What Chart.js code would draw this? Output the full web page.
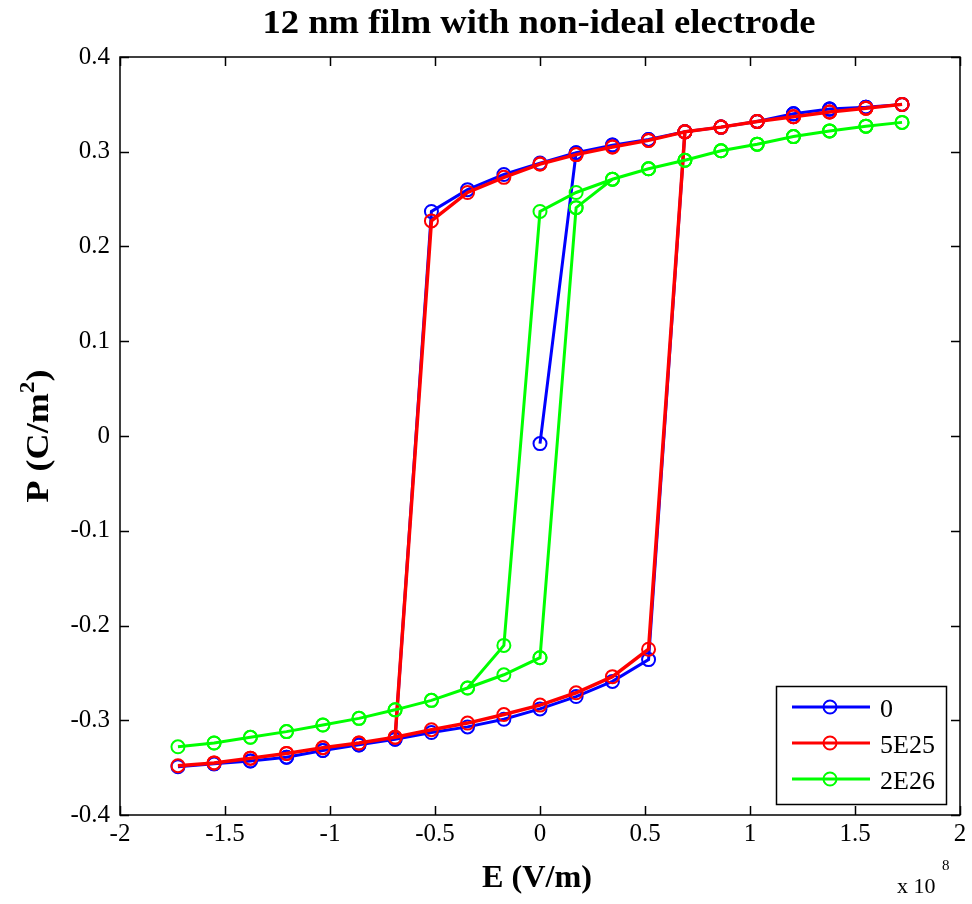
<!DOCTYPE html>
<html><head><meta charset="utf-8">
<script src="https://cdn.jsdelivr.net/npm/chart.js@4"></script>
<style>html,body{margin:0;padding:0;background:#fff}</style>
</head><body>
<canvas id="c" width="972" height="904" style="display:block"></canvas>
<script>
// ---- data (E in units of 1e8 V/m, P in C/m^2) ----
const seriesNames = ['0', '5E25', '2E26'];
const seriesColors = ['#0000ff', '#ff0000', '#00ff00'];

const blueE = [0, 0.172, 0.345, 0.517, 0.690, 0.862, 1.034, 1.207, 1.379, 1.552, 1.724,
  1.552, 1.379, 1.207, 1.034, 0.862, 0.690, 0.517, 0.345, 0.172, 0, -0.172, -0.345, -0.517, -0.690, -0.862, -1.034, -1.207, -1.379, -1.552, -1.724,
  -1.552, -1.379, -1.207, -1.034, -0.862, -0.690, -0.517, -0.345, -0.172, 0, 0.172, 0.345, 0.517, 0.690, 0.862, 1.034, 1.207, 1.379, 1.552, 1.724];
const blueP = [-0.008, 0.299, 0.307, 0.313, 0.321, 0.326, 0.332, 0.340, 0.345, 0.347, 0.350,
  0.347, 0.345, 0.340, 0.332, 0.326, 0.321, 0.313, 0.307, 0.299, 0.288, 0.276, 0.260, 0.237, -0.320, -0.326, -0.332, -0.339, -0.343, -0.346, -0.349,
  -0.346, -0.343, -0.339, -0.332, -0.326, -0.320, -0.313, -0.307, -0.299, -0.288, -0.275, -0.259, -0.236, 0.321, 0.326, 0.332, 0.340, 0.345, 0.347, 0.350];

const redE = [0, 0.172, 0.345, 0.517, 0.690, 0.862, 1.034, 1.207, 1.379, 1.552, 1.724,
  1.552, 1.379, 1.207, 1.034, 0.862, 0.690, 0.517, 0.345, 0.172, 0, -0.172, -0.345, -0.517, -0.690, -0.862, -1.034, -1.207, -1.379, -1.552, -1.724,
  -1.552, -1.379, -1.207, -1.034, -0.862, -0.690, -0.517, -0.345, -0.172, 0, 0.172, 0.345, 0.517, 0.690, 0.862, 1.034, 1.207, 1.379, 1.552, 1.724];
const redP = [0.287, 0.297, 0.305, 0.312, 0.321, 0.326, 0.332, 0.337, 0.342, 0.346, 0.350,
  0.346, 0.342, 0.337, 0.332, 0.326, 0.321, 0.312, 0.305, 0.297, 0.287, 0.273, 0.257, 0.227, -0.318, -0.324, -0.329, -0.335, -0.340, -0.345, -0.348,
  -0.345, -0.340, -0.335, -0.329, -0.324, -0.318, -0.310, -0.303, -0.294, -0.284, -0.271, -0.254, -0.225, 0.321, 0.326, 0.332, 0.337, 0.342, 0.346, 0.350];

const greenE = [0, 0.172, 0.345, 0.517, 0.690, 0.862, 1.034, 1.207, 1.379, 1.552, 1.724,
  1.552, 1.379, 1.207, 1.034, 0.862, 0.690, 0.517, 0.345, 0.172, 0, -0.172, -0.345, -0.517, -0.690, -0.862, -1.034, -1.207, -1.379, -1.552, -1.724,
  -1.552, -1.379, -1.207, -1.034, -0.862, -0.690, -0.517, -0.345, -0.172, 0, 0.172, 0.345, 0.517, 0.690, 0.862, 1.034, 1.207, 1.379, 1.552, 1.724];
const greenP = [-0.234, 0.241, 0.271, 0.282, 0.291, 0.301, 0.308, 0.316, 0.322, 0.327, 0.331,
  0.327, 0.322, 0.316, 0.308, 0.301, 0.291, 0.282, 0.271, 0.257, 0.237, -0.221, -0.266, -0.279, -0.289, -0.298, -0.305, -0.312, -0.318, -0.324, -0.328,
  -0.324, -0.318, -0.312, -0.305, -0.298, -0.289, -0.279, -0.266, -0.252, -0.234, 0.241, 0.271, 0.282, 0.291, 0.301, 0.308, 0.316, 0.322, 0.327, 0.331];

const xTickValues = [-2, -1.5, -1, -0.5, 0, 0.5, 1, 1.5, 2];
const xTickLabels = ['-2', '-1.5', '-1', '-0.5', '0', '0.5', '1', '1.5', '2'];
const yTickValues = [-0.4, -0.3, -0.2, -0.1, 0, 0.1, 0.2, 0.3, 0.4];
const yTickLabels = ['-0.4', '-0.3', '-0.2', '-0.1', '0', '0.1', '0.2', '0.3', '0.4'];

const titleText = '12 nm film with non-ideal electrode';
const xTitle = 'E (V/m)';
const yTitle = 'P (C/m';

// ---- build datasets ----
function pts(E, P) { return E.map((e, i) => ({ x: e, y: P[i] })); }
const seriesData = [pts(blueE, blueP), pts(redE, redP), pts(greenE, greenP)];
const lineWidths = [3, 3.5, 3];
const orders = [2, 1, 0];

const datasets = seriesData.map((d, i) => ({
  label: seriesNames[i],
  data: d,
  borderColor: seriesColors[i],
  backgroundColor: 'rgba(0,0,0,0)',
  borderWidth: lineWidths[i],
  pointRadius: 6.5,
  pointBorderWidth: 2,
  pointBorderColor: seriesColors[i],
  pointBackgroundColor: 'rgba(0,0,0,0)',
  pointStyle: 'circle',
  tension: 0,
  showLine: true,
  fill: false,
  order: orders[i]
}));

const SERIF = '"Liberation Serif", "DejaVu Serif", serif';

function fitText(ctx, text, x, y, width, font, align) {
  ctx.save();
  ctx.font = font;
  const w = ctx.measureText(text).width;
  const s = width / w;
  ctx.translate(x, y);
  ctx.scale(s, 1);
  ctx.textAlign = align || 'center';
  ctx.fillText(text, 0, 0);
  ctx.restore();
}

const decor = {
  id: 'decor',
  afterDraw(chart) {
    const ctx = chart.ctx;
    const a = chart.chartArea;
    const xs = chart.scales.x, ys = chart.scales.y;
    ctx.save();
    ctx.strokeStyle = '#000';
    ctx.fillStyle = '#000';
    ctx.lineWidth = 1.5;
    // box
    ctx.strokeRect(a.left, a.top, a.right - a.left, a.bottom - a.top);
    // inward ticks
    const tl = 9;
    ctx.beginPath();
    xTickValues.forEach(v => {
      const p = Math.round(xs.getPixelForValue(v)) + 0.5;
      ctx.moveTo(p, a.bottom); ctx.lineTo(p, a.bottom - tl);
      ctx.moveTo(p, a.top); ctx.lineTo(p, a.top + tl);
    });
    yTickValues.forEach(v => {
      const p = Math.round(ys.getPixelForValue(v)) + 0.5;
      ctx.moveTo(a.left, p); ctx.lineTo(a.left + tl, p);
      ctx.moveTo(a.right, p); ctx.lineTo(a.right - tl, p);
    });
    ctx.stroke();

    // legend
    const lx = 776, ly = 686, lw = 170, lh = 118;
    ctx.fillStyle = '#fff';
    ctx.fillRect(lx, ly, lw, lh);
    ctx.strokeRect(lx + 0.5, ly + 0.5, lw, lh);
    const rows = [707, 743, 779];
    seriesNames.forEach((n, i) => {
      const y = rows[i];
      ctx.strokeStyle = seriesColors[i];
      ctx.lineWidth = 3;
      ctx.beginPath(); ctx.moveTo(792, y); ctx.lineTo(870, y); ctx.stroke();
      ctx.lineWidth = 2;
      ctx.beginPath(); ctx.arc(830, y, 6.5, 0, Math.PI * 2); ctx.stroke();
      ctx.fillStyle = '#000';
      ctx.font = '26px ' + SERIF;
      ctx.textAlign = 'left';
      ctx.textBaseline = 'middle';
      ctx.fillText(n, 880, y + 3);
    });

    // title and axis titles
    ctx.fillStyle = '#000';
    ctx.textBaseline = 'alphabetic';
    fitText(ctx, titleText, 539, 33, 553, 'bold 33px ' + SERIF, 'center');
    fitText(ctx, xTitle, 537, 887, 110, 'bold 31px ' + SERIF, 'center');

    // y title rotated
    ctx.save();
    ctx.translate(48, 436);
    ctx.rotate(-Math.PI / 2);
    ctx.font = 'bold 31px ' + SERIF;
    const w1 = ctx.measureText(yTitle).width;
    ctx.font = 'bold 20px ' + SERIF;
    const w2 = ctx.measureText('2').width;
    ctx.font = 'bold 31px ' + SERIF;
    const w3 = ctx.measureText(')').width;
    const total = w1 + w2 + w3;
    const sc = 133 / total;
    ctx.scale(sc, 1);
    let x0 = -total / 2;
    ctx.textAlign = 'left';
    ctx.fillText(yTitle, x0, 0);
    ctx.font = 'bold 20px ' + SERIF;
    ctx.fillText('2', x0 + w1, -14);
    ctx.font = 'bold 31px ' + SERIF;
    ctx.fillText(')', x0 + w1 + w2, 0);
    ctx.restore();

    // exponent label
    ctx.font = '22px ' + SERIF;
    ctx.textAlign = 'left';
    ctx.fillText('x 10', 897, 893);
    ctx.font = '15px ' + SERIF;
    ctx.fillText('8', 942, 870);
    ctx.restore();
  }
};

new Chart(document.getElementById('c'), {
  type: 'line',
  data: { datasets },
  options: {
    responsive: false,
    animation: false,
    layout: { padding: { top: 57, right: 12, left: 0, bottom: 0 } },
    plugins: { legend: { display: false }, tooltip: { enabled: false }, title: { display: false } },
    scales: {
      x: {
        type: 'linear', min: -2, max: 2,
        grid: { display: false, drawTicks: false },
        border: { display: false },
        afterBuildTicks: s => { s.ticks = xTickValues.map(v => ({ value: v })); },
        afterFit: s => { s.height = 89; },
        ticks: {
          autoSkip: false, maxRotation: 0, padding: 4, color: '#000',
          font: { family: SERIF, size: 25 },
          callback: (v, i) => xTickLabels[i]
        }
      },
      y: {
        type: 'linear', min: -0.4, max: 0.4,
        grid: { display: false, drawTicks: false },
        border: { display: false },
        afterBuildTicks: s => { s.ticks = yTickValues.map(v => ({ value: v })); },
        afterFit: s => { s.width = 120; },
        ticks: {
          autoSkip: false, padding: 10, color: '#000',
          font: { family: SERIF, size: 25 },
          callback: (v, i) => yTickLabels[i]
        }
      }
    }
  },
  plugins: [decor]
});
</script>
</body></html>
